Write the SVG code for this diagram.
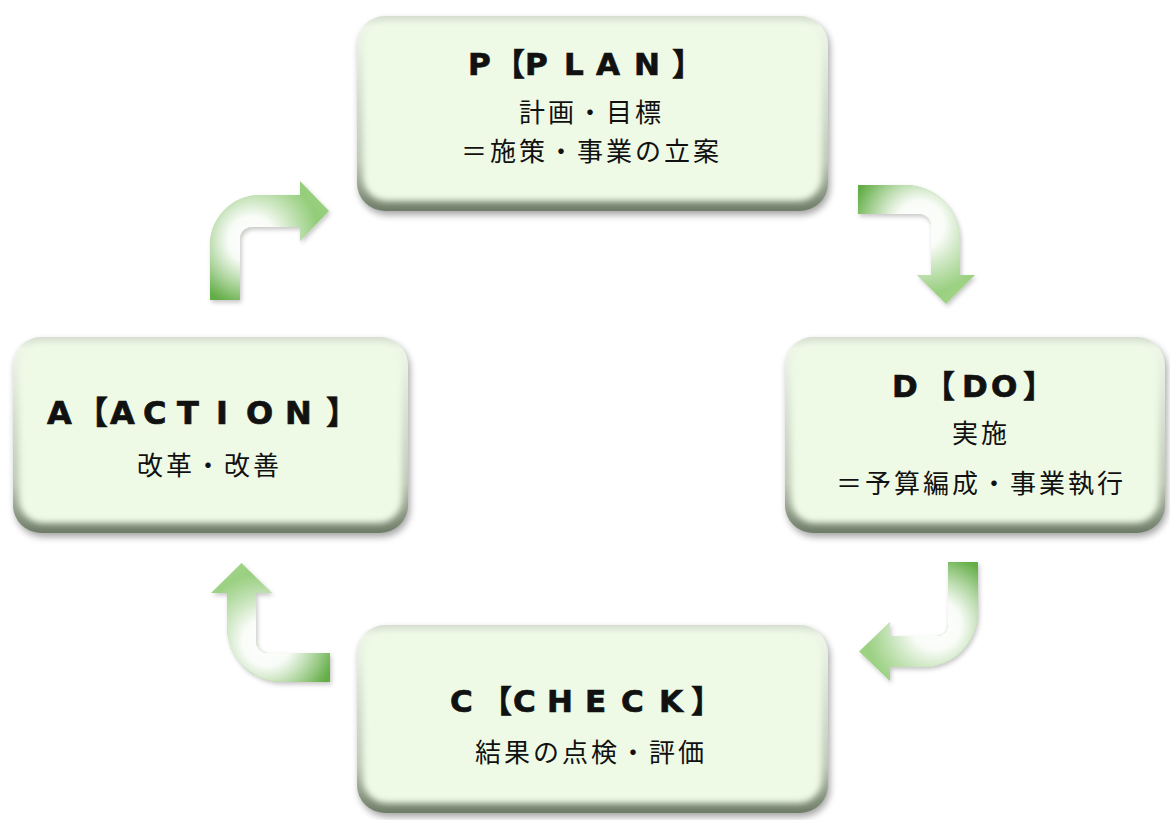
<svg xmlns="http://www.w3.org/2000/svg" width="1170" height="820" viewBox="0 0 1170 820">
<style>
.shadow{fill:#000;opacity:0.35;filter:url(#blur4)}
.bevel{fill:url(#bevelGrad)}
.face{fill:#eefae6;filter:url(#blur3)}
.title{font-family:"DejaVu Sans","Noto Sans CJK JP",sans-serif;font-weight:bold;font-size:31px;fill:#111;stroke:#111;stroke-width:0.7px}
.body{font-family:"Noto Sans CJK JP","Noto Sans CJK SC",sans-serif;font-size:26px;letter-spacing:3px;fill:#111}
.arrowbase{filter:url(#ashadow)}
</style>
<defs>
<filter id="blur4" x="-10%" y="-10%" width="120%" height="130%"><feGaussianBlur stdDeviation="3.5"/></filter>
<filter id="blur3" x="-5%" y="-10%" width="110%" height="120%"><feGaussianBlur stdDeviation="3"/></filter>
<filter id="ashadow" x="-20%" y="-20%" width="140%" height="140%"><feDropShadow dx="1.5" dy="2.5" stdDeviation="2" flood-color="#000" flood-opacity="0.22"/></filter>
<linearGradient id="bevelGrad" x1="0" y1="0" x2="0" y2="1">
<stop offset="0" stop-color="#d6dfcf"/>
<stop offset="0.06" stop-color="#eef6e8"/>
<stop offset="0.75" stop-color="#bcc7b4"/>
<stop offset="1" stop-color="#6e7c67"/>
</linearGradient>
<linearGradient id="g1" gradientUnits="userSpaceOnUse" x1="225" y1="300" x2="329" y2="211"><stop offset="0" stop-color="#62ad45"/><stop offset="1" stop-color="#98d07e"/></linearGradient>
<linearGradient id="g2" gradientUnits="userSpaceOnUse" x1="858" y1="200" x2="946" y2="304"><stop offset="0" stop-color="#62ad45"/><stop offset="1" stop-color="#9fd386"/></linearGradient>
<linearGradient id="g3" gradientUnits="userSpaceOnUse" x1="963" y1="562" x2="859" y2="652"><stop offset="0" stop-color="#62ad45"/><stop offset="1" stop-color="#9fd386"/></linearGradient>
<linearGradient id="g4" gradientUnits="userSpaceOnUse" x1="330" y1="667" x2="241" y2="563"><stop offset="0" stop-color="#62ad45"/><stop offset="1" stop-color="#9fd386"/></linearGradient>
<radialGradient id="w1" gradientUnits="userSpaceOnUse" cx="252" cy="240" r="68"><stop offset="0" stop-color="#fff" stop-opacity="1"/><stop offset="0.35" stop-color="#fff" stop-opacity="0.95"/><stop offset="1" stop-color="#fff" stop-opacity="0"/></radialGradient>
<radialGradient id="w2" gradientUnits="userSpaceOnUse" cx="920" cy="225" r="70"><stop offset="0" stop-color="#fff" stop-opacity="1"/><stop offset="0.35" stop-color="#fff" stop-opacity="0.95"/><stop offset="1" stop-color="#fff" stop-opacity="0"/></radialGradient>
<radialGradient id="w3" gradientUnits="userSpaceOnUse" cx="936" cy="625" r="72"><stop offset="0" stop-color="#fff" stop-opacity="1"/><stop offset="0.35" stop-color="#fff" stop-opacity="0.95"/><stop offset="1" stop-color="#fff" stop-opacity="0"/></radialGradient>
<radialGradient id="w4" gradientUnits="userSpaceOnUse" cx="267" cy="642" r="70"><stop offset="0" stop-color="#fff" stop-opacity="1"/><stop offset="0.35" stop-color="#fff" stop-opacity="0.95"/><stop offset="1" stop-color="#fff" stop-opacity="0"/></radialGradient>
<path id="a1" d="M210,300 V245 A50,50 0 0 1 260,195 H300 V181 L329,211 L300,241 V227 H252 A12,12 0 0 0 240,239 V300 Z"/>
<path id="a2" d="M858,185 H905 A55,55 0 0 1 960,240 V275 H975 L946,304 L917,275 H931 V226 A12,12 0 0 0 919,214 H858 Z"/>
<path id="a3" d="M948,562 H978 V612 A55,55 0 0 1 923,667 H890 V681 L859,651.5 L890,622 V636 H936 A12,12 0 0 0 948,624 Z"/>
<path id="a4" d="M330,653 V682 H282 A55,55 0 0 1 227,627 V593 H211 L241.5,563 L272,593 H256 V641 A12,12 0 0 0 268,653 Z"/>
</defs>
<rect width="1170" height="820" fill="#fff"/>

<g id="connectors">
<g id="arrow-plan-do"><use href="#a2" fill="url(#g2)" class="arrowbase"/><use href="#a2" fill="url(#w2)"/></g>
<g id="arrow-do-check"><use href="#a3" fill="url(#g3)" class="arrowbase"/><use href="#a3" fill="url(#w3)"/></g>
<g id="arrow-check-action"><use href="#a4" fill="url(#g4)" class="arrowbase"/><use href="#a4" fill="url(#w4)"/></g>
<g id="arrow-action-plan"><use href="#a1" fill="url(#g1)" class="arrowbase"/><use href="#a1" fill="url(#w1)"/></g>
</g>

<g id="node-plan">
<rect class="shadow" x="359" y="20" width="471" height="195" rx="28"/>
<rect class="bevel" x="357" y="16" width="471" height="195" rx="28"/>
<rect class="face" x="363" y="23" width="459" height="178" rx="24"/>
<text class="title" x="468 494 525 564 596 634 672" y="75">P【PLAN】</text>
<text class="body" x="519" y="122">計画・目標</text>
<text class="body" x="461" y="161">＝施策・事業の立案</text>
</g>

<g id="node-do">
<rect class="shadow" x="787" y="341" width="380" height="196" rx="28"/>
<rect class="bevel" x="785" y="337" width="380" height="196" rx="28"/>
<rect class="face" x="791" y="344" width="368" height="179" rx="24"/>
<text class="title" x="892 924 962 991 1023" y="397">D【DO】</text>
<text class="body" x="952" y="443">実施</text>
<text class="body" x="836" y="493">＝予算編成・事業執行</text>
</g>

<g id="node-check">
<rect class="shadow" x="359" y="629" width="471" height="188" rx="28"/>
<rect class="bevel" x="357" y="625" width="471" height="188" rx="28"/>
<rect class="face" x="363" y="632" width="459" height="171" rx="24"/>
<text class="title" x="450 481 513 547 585 621 659 691" y="712">C【CHECK】</text>
<text class="body" x="475" y="762">結果の点検・評価</text>
</g>

<g id="node-action">
<rect class="shadow" x="15" y="341" width="395" height="196" rx="28"/>
<rect class="bevel" x="13" y="337" width="395" height="196" rx="28"/>
<rect class="face" x="19" y="344" width="383" height="179" rx="24"/>
<text class="title" style="font-size:32px" x="47 76 110 143 177 216 246 285 326" y="424">A【ACTION】</text>
<text class="body" x="137" y="475">改革・改善</text>
</g>
</svg>
